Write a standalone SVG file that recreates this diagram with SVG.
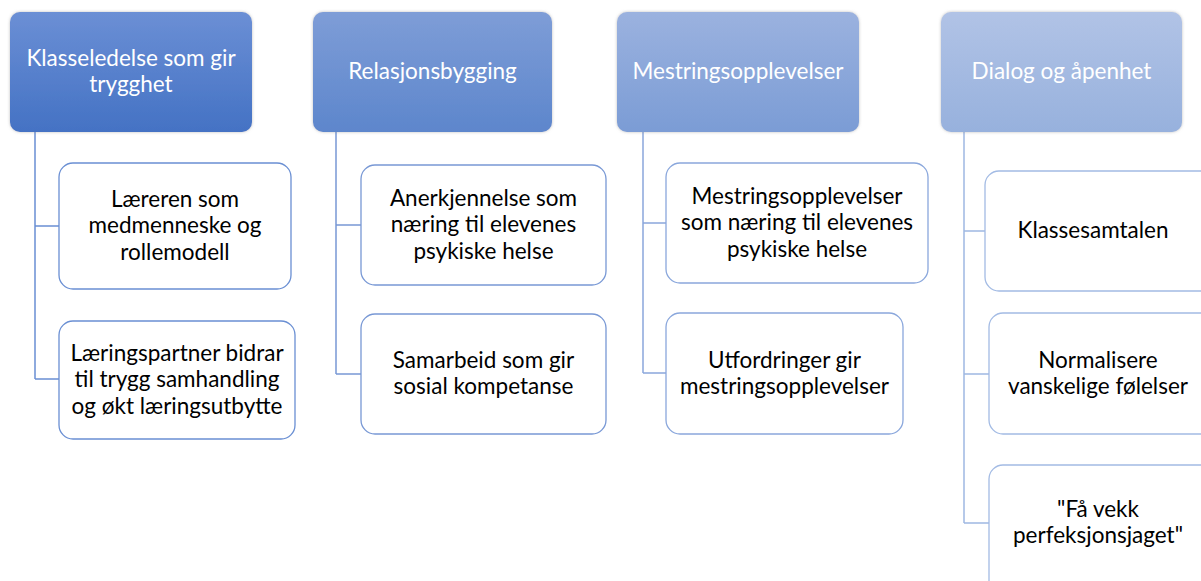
<svg xmlns="http://www.w3.org/2000/svg" width="1201" height="581" viewBox="0 0 1201 581">
<style>
  text { font-family: Lato, "Open Sans", "Liberation Sans", sans-serif; font-size: 22.5px; text-anchor: middle; }
  .ht { fill: #ffffff; }
  .ct { fill: #000000; }
  .box { fill: #ffffff; stroke-width: 1.3; }
  .conn { fill: none; stroke-width: 1.5; }
</style>
<defs>
  <linearGradient id="g1" x1="0" y1="0" x2="0" y2="1"><stop offset="0" stop-color="#6b8fd5"/><stop offset="1" stop-color="#4472c4"/></linearGradient>
  <linearGradient id="g2" x1="0" y1="0" x2="0" y2="1"><stop offset="0" stop-color="#7e9dd7"/><stop offset="1" stop-color="#5d86cc"/></linearGradient>
  <linearGradient id="g3" x1="0" y1="0" x2="0" y2="1"><stop offset="0" stop-color="#9bb2df"/><stop offset="1" stop-color="#7b9cd5"/></linearGradient>
  <linearGradient id="g4" x1="0" y1="0" x2="0" y2="1"><stop offset="0" stop-color="#b1c3e6"/><stop offset="1" stop-color="#97b1dd"/></linearGradient>
  <filter id="sh" x="-10%" y="-10%" width="120%" height="120%">
    <feDropShadow dx="0" dy="0" stdDeviation="1.5" flood-color="#808080" flood-opacity="0.5"/>
  </filter>
</defs>

<g id="connectors">
  <path class="conn" stroke="#6a8fd3" d="M35,132 V379 M35,226 H59 M35,379 H59"/>
  <path class="conn" stroke="#7898d5" d="M336,132 V374 M336,225 H361 M336,374 H361"/>
  <path class="conn" stroke="#8aa7dc" d="M643,132 V373 M643,223 H666 M643,373 H666"/>
  <path class="conn" stroke="#9fb8e2" d="M964,132 V523 M964,231 H985 M964,374 H989 M964,523 H989"/>
</g>

<g id="header1">
  <rect x="10" y="12" width="242" height="120" rx="10" fill="url(#g1)" filter="url(#sh)"/>
  <text class="ht" x="131" y="66">Klasseledelse som gir</text>
  <text class="ht" x="131" y="92">trygghet</text>
</g>
<g id="header2">
  <rect x="313" y="12" width="239" height="120" rx="10" fill="url(#g2)" filter="url(#sh)"/>
  <text class="ht" x="432.5" y="79">Relasjonsbygging</text>
</g>
<g id="header3">
  <rect x="617" y="12" width="242" height="120" rx="10" fill="url(#g3)" filter="url(#sh)"/>
  <text class="ht" x="738" y="79">Mestringsopplevelser</text>
</g>
<g id="header4">
  <rect x="941" y="12" width="241" height="120" rx="10" fill="url(#g4)" filter="url(#sh)"/>
  <text class="ht" x="1061.5" y="79">Dialog og åpenhet</text>
</g>

<g id="child1a">
  <rect class="box" stroke="#6a8fd3" x="59" y="163" width="232" height="126" rx="14"/>
  <text class="ct" x="175" y="206.5">Læreren som</text>
  <text class="ct" x="175" y="233">medmenneske og</text>
  <text class="ct" x="175" y="259.5">rollemodell</text>
</g>
<g id="child1b">
  <rect class="box" stroke="#6a8fd3" x="59" y="321" width="236" height="118" rx="14"/>
  <text class="ct" x="177" y="360.5">Læringspartner bidrar</text>
  <text class="ct" x="177" y="387">til trygg samhandling</text>
  <text class="ct" x="177" y="413.5">og økt læringsutbytte</text>
</g>
<g id="child2a">
  <rect class="box" stroke="#7898d5" x="361" y="165" width="245" height="120" rx="14"/>
  <text class="ct" x="483.5" y="205.5">Anerkjennelse som</text>
  <text class="ct" x="483.5" y="232">næring til elevenes</text>
  <text class="ct" x="483.5" y="258.5">psykiske helse</text>
</g>
<g id="child2b">
  <rect class="box" stroke="#7898d5" x="361" y="314" width="245" height="120" rx="14"/>
  <text class="ct" x="483.5" y="368">Samarbeid som gir</text>
  <text class="ct" x="483.5" y="394">sosial kompetanse</text>
</g>
<g id="child3a">
  <rect class="box" stroke="#8aa7dc" x="666" y="163" width="262" height="120" rx="14"/>
  <text class="ct" x="797" y="203.5">Mestringsopplevelser</text>
  <text class="ct" x="797" y="230">som næring til elevenes</text>
  <text class="ct" x="797" y="256.5">psykiske helse</text>
</g>
<g id="child3b">
  <rect class="box" stroke="#8aa7dc" x="666" y="313" width="237" height="121" rx="14"/>
  <text class="ct" x="784.5" y="367.5">Utfordringer gir</text>
  <text class="ct" x="784.5" y="393.5">mestringsopplevelser</text>
</g>
<g id="child4a">
  <rect class="box" stroke="#a3bbe4" x="985" y="171" width="232" height="120" rx="14"/>
  <text class="ct" x="1093" y="238">Klassesamtalen</text>
</g>
<g id="child4b">
  <rect class="box" stroke="#a3bbe4" x="989" y="313" width="232" height="121" rx="14"/>
  <text class="ct" x="1098" y="367.5">Normalisere</text>
  <text class="ct" x="1098" y="393.5">vanskelige følelser</text>
</g>
<g id="child4c">
  <rect class="box" stroke="#a3bbe4" x="989" y="465" width="232" height="130" rx="14"/>
  <text class="ct" x="1098" y="517">"Få vekk</text>
  <text class="ct" x="1098" y="543">perfeksjonsjaget"</text>
</g>
</svg>
